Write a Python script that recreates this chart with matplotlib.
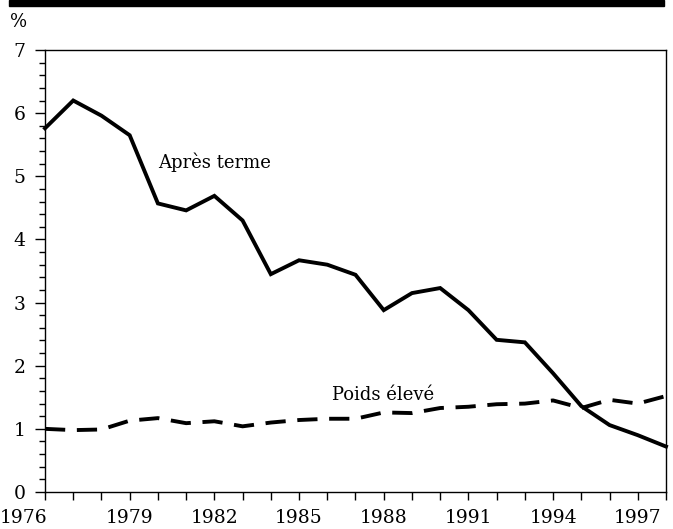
import matplotlib
matplotlib.use("Agg")
import matplotlib.pyplot as plt
import matplotlib.transforms as mtransforms
from matplotlib.ticker import MultipleLocator
from matplotlib.patches import Rectangle

years = list(range(1976, 1999))
apres_terme = [5.76, 6.20, 5.96, 5.65, 4.57, 4.46, 4.69, 4.30, 3.45, 3.67, 3.60,
               3.44, 2.88, 3.15, 3.23, 2.88, 2.41, 2.37, 1.88, 1.36, 1.06, 0.90, 0.72]
poids_eleve = [1.00, 0.98, 0.99, 1.13, 1.17, 1.09, 1.12, 1.04, 1.10, 1.14, 1.16,
               1.16, 1.26, 1.25, 1.33, 1.35, 1.39, 1.40, 1.45, 1.33, 1.46, 1.40, 1.52]
xtick_years = list(range(1976, 1998, 3))

plt.rcParams['font.family'] = ['DejaVu Serif']

fig = plt.figure(figsize=(6.73, 5.29), dpi=100)
ax = fig.add_axes([45 / 673, 37 / 529, 621 / 673, 442 / 529])

ax.plot(years, apres_terme, color='black', lw=2.8, solid_joinstyle='miter',
        clip_on=False)
ax.plot(years, poids_eleve, color='black', lw=2.8, dashes=(5.2, 3.0),
        clip_on=False)

ax.set_xlim(1976, 1998)
ax.set_ylim(0, 7)
ax.set_xticks(years)
ax.set_xticklabels([str(y) if y in xtick_years else '' for y in years])
ax.yaxis.set_major_locator(MultipleLocator(1))
ax.yaxis.set_minor_locator(MultipleLocator(0.2))

ax.tick_params(axis='both', direction='out', color='black', width=1.0,
               labelsize=13.5)
ax.tick_params(axis='x', length=6, pad=6)
ax.tick_params(axis='y', which='major', length=7, pad=7)
ax.tick_params(axis='y', which='minor', length=4, width=1.0)
for s in ax.spines.values():
    s.set_linewidth(1.0)

# keep the first year label inside the figure: left-align it at the edge
first = ax.get_xticklabels()[0]
first.set_horizontalalignment('left')
first.set_transform(first.get_transform() +
                    mtransforms.ScaledTranslation(-0.45, 0, fig.dpi_scale_trans))

ax.text(1980.0, 5.22, 'Après terme', fontsize=13, ha='left', va='center')
ax.text(1986.15, 1.54, 'Poids élevé', fontsize=13, ha='left', va='center')

fig.text(10 / 673, 1 - 22 / 529, '%', fontsize=13, ha='left', va='center')
fig.patches.append(Rectangle((9 / 673, 1 - 6 / 529), 655 / 673, 6 / 529,
                             transform=fig.transFigure, color='black',
                             figure=fig))

fig.savefig('out.png', dpi=100)
